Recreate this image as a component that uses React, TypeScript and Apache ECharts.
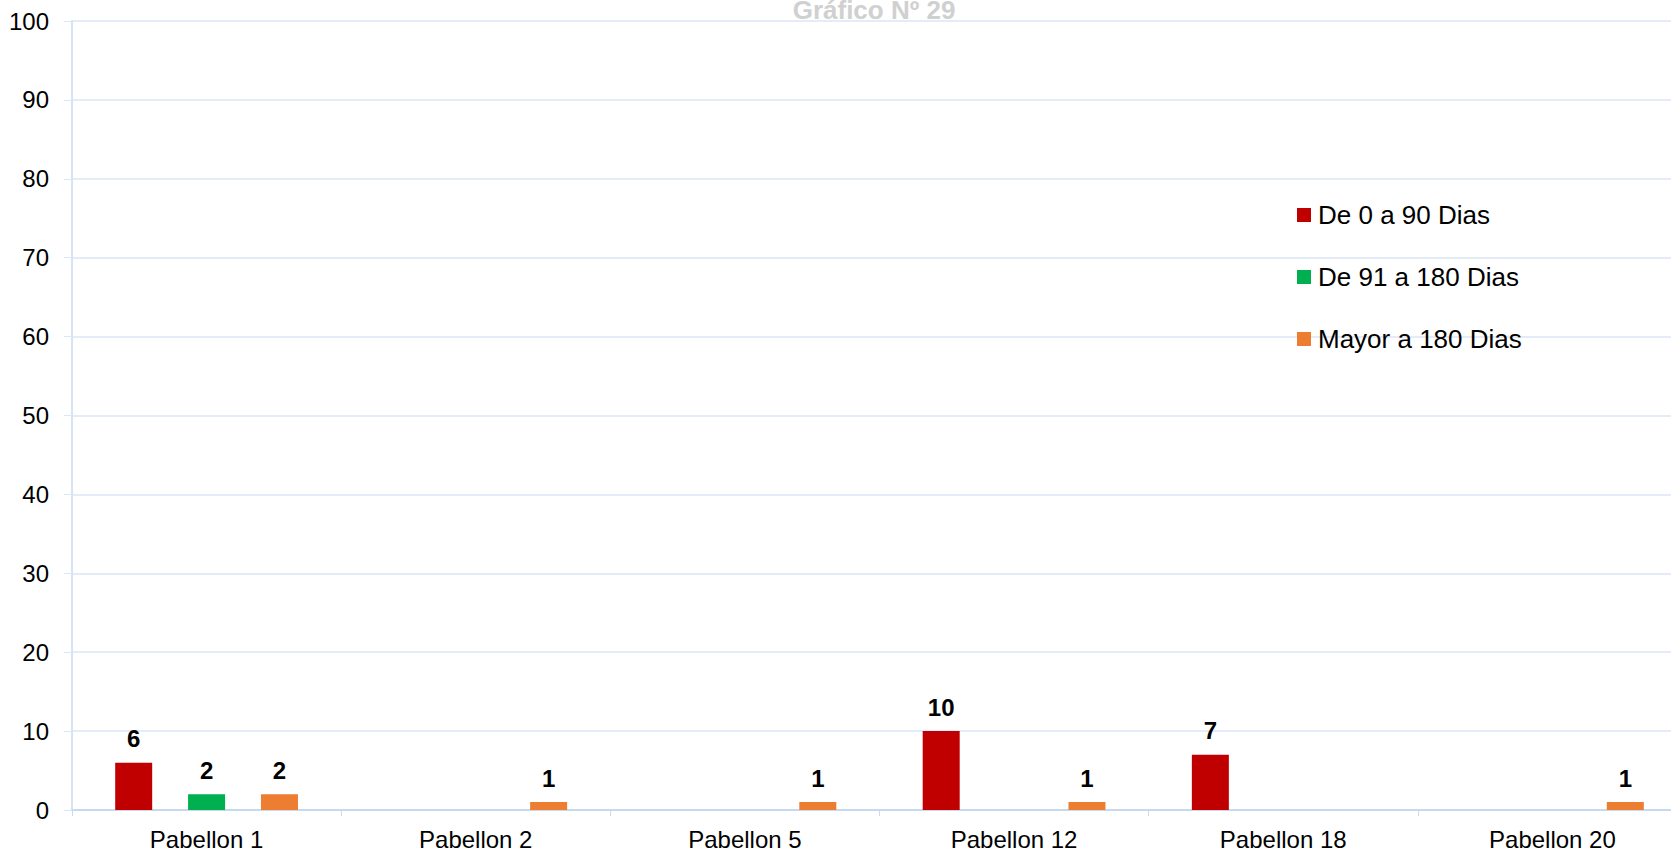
import React, { useEffect, useRef } from "react";
import * as echarts from "echarts";

const categories = ["Pabellon 1", "Pabellon 2", "Pabellon 5", "Pabellon 12", "Pabellon 18", "Pabellon 20"];
const seriesNames = ["De 0 a 90 Dias", "De 91 a 180 Dias", "Mayor a 180 Dias"];
const de0a90 = [6, null, null, 10, 7, null];
const de91a180 = [2, null, null, null, null, null];
const mayor180 = [2, 1, 1, 1, null, 1];
const colors = ["#c00000", "#00b050", "#ed7d31"];

const CHART_W = 1710;

export default function App() {
  const ref = useRef<HTMLDivElement>(null);
  useEffect(() => {
    if (!ref.current) return;
    const chart = echarts.init(ref.current, null, { renderer: "svg" });
    const font = "'Liberation Sans', Arial, sans-serif";
    const mk = (name: string, data: (number | null)[], color: string) => ({
      name,
      type: "bar",
      data,
      barWidth: 37,
      barGap: "97%",
      itemStyle: { color },
      label: {
        show: true,
        position: "top",
        distance: 12,
        color: "#000",
        fontWeight: "bold",
        fontSize: 24,
        fontFamily: font,
      },
    });
    chart.setOption({
      animation: false,
      title: {
        text: "Gráfico Nº 29",
        left: 874,
        textAlign: "center",
        top: -3,
        padding: 0,
        textStyle: { color: "#d0d0d0", fontSize: 26, fontWeight: "bold", fontFamily: font },
      },
      legend: {
        orient: "vertical",
        left: 1297,
        top: 202,
        padding: 0,
        itemWidth: 14,
        itemHeight: 14,
        itemGap: 36,
        icon: "rect",
        textStyle: { fontSize: 26, color: "#000", fontFamily: font, padding: [0, 0, 0, 2] },
        data: seriesNames,
      },
      grid: { left: 72, right: CHART_W - 1687, top: 21, bottom: 41, containLabel: false },
      xAxis: {
        type: "category",
        data: categories,
        axisLine: { lineStyle: { color: "#c5d9f1", width: 2 } },
        axisTick: { show: true, length: 6, lineStyle: { color: "#c5d9f1" } },
        axisLabel: { fontSize: 24, color: "#000", margin: 17, fontFamily: font },
      },
      yAxis: {
        type: "value",
        min: 0,
        max: 100,
        interval: 10,
        axisLine: { show: true, lineStyle: { color: "#d5e3f3", width: 2 } },
        axisTick: { show: true, length: 8, lineStyle: { color: "#dbe7f4" } },
        splitLine: { show: true, lineStyle: { color: "#dbe7f4", width: 1.5 } },
        axisLabel: { fontSize: 24, color: "#000", margin: 23, fontFamily: font },
      },
      series: [
        mk(seriesNames[0], de0a90, colors[0]),
        mk(seriesNames[1], de91a180, colors[1]),
        mk(seriesNames[2], mayor180, colors[2]),
      ],
    });
    return () => chart.dispose();
  }, []);
  return (
    <div style={{ position: "absolute", left: 0, top: 0, width: 1671, height: 851, overflow: "hidden" }}>
      <div ref={ref} style={{ width: CHART_W, height: 851, position: "absolute", left: 0, top: 0 }} />
    </div>
  );
}
